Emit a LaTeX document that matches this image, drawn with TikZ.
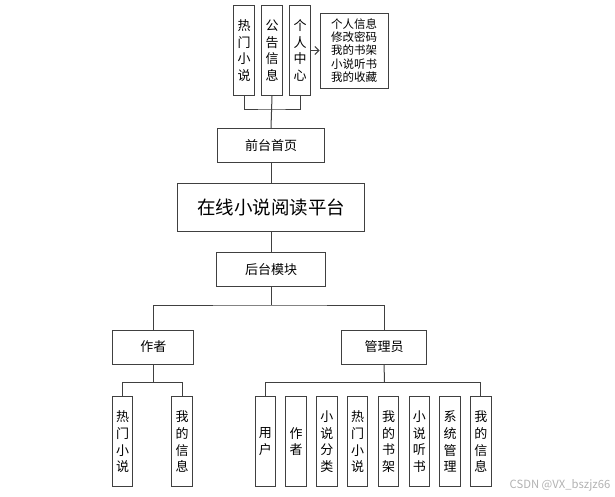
\documentclass[tikz,border=0pt]{standalone}
\usepackage{fontspec}
\setmainfont{Noto Sans CJK SC}
\usetikzlibrary{arrows.meta, positioning}

\begin{document}
\begin{tikzpicture}[x=1pt, y=-1pt,
    box/.style={draw=black!75, line width=1pt, fill=white, inner sep=0pt, align=center,
        font=\fontsize{13}{16.7}\selectfont},
    vbox/.style={box, minimum width=20.5pt, minimum height=90pt},
    hbox/.style={box, minimum height=34pt},
    link/.style={draw=black!75, line width=1pt}
]
    \useasboundingbox (0,0) rectangle (615,496);

    % 前台
    \node[vbox] (hot) at (244,50.5) {热\\门\\小\\说};
    \node[vbox, right=6.5pt of hot] (notice) {公\\告\\信\\息};
    \node[vbox, right=6.5pt of notice] (center) {个\\人\\中\\心};
    \node[box, minimum width=68pt, minimum height=75pt, font=\fontsize{11.5}{13.3}\selectfont]
        (info) at (354,50.5) {个人信息\\修改密码\\我的书架\\小说听书\\我的收藏};
    \node[hbox, minimum width=107pt] (front) at (271,145.3) {前台首页};
    \coordinate (fsplit) at (271,109);
    \draw[link] (hot.south) |- (fsplit) -| (center.south);
    \draw[link] (notice.south) -- (front.north);
    \draw[link, -{Straight Barb[length=4pt, width=8pt]}] (center.east) -- (info.west);

    % 平台
    \node[box, minimum width=186.7pt, minimum height=48.4pt, font=\fontsize{18.5}{22}\selectfont]
        (platform) at (271,207.5) {在线小说阅读平台};
    \node[hbox, minimum width=109.7pt] (back) at (271,269.7) {后台模块};
    \draw[link] (front) -- (platform);
    \draw[link] (platform) -- (back);

    % 后台
    \node[hbox, minimum width=81pt] (author) at (153.3,347) {作者};
    \node[hbox, minimum width=85pt] (admin) at (384.2,347) {管理员};
    \coordinate (bsplit) at (271,305);
    \draw[link] (back.south) -- (bsplit);
    \draw[link] (author.north) |- (bsplit) -| (admin.north);

    % 作者
    \node[vbox] (ahot) at (122.5,441.7) {热\\门\\小\\说};
    \node[vbox] (ainfo) at (182,441.7) {我\\的\\信\\息};
    \coordinate (asplit) at (153.3,382.7);
    \draw[link] (author.south) -- (asplit);
    \draw[link] (ahot.north) |- (asplit) -| (ainfo.north);

    % 管理员
    \node[vbox] (muser) at (265.3,441.7) {用\\户};
    \node[vbox, right=9.3pt of muser] (mauthor) {作\\者};
    \node[vbox, right=9.3pt of mauthor] (mtype) {小\\说\\分\\类};
    \node[vbox, right=9.3pt of mtype] (mhot) {热\\门\\小\\说};
    \node[vbox, right=9.3pt of mhot] (mshelf) {我\\的\\书\\架};
    \node[vbox, right=9.3pt of mshelf] (maudio) {小\\说\\听\\书};
    \node[vbox, right=9.3pt of maudio] (msys) {系\\统\\管\\理};
    \node[vbox, right=9.3pt of msys] (minfo) {我\\的\\信\\息};
    \coordinate (msplit) at (384.3,382.7);
    \draw[link] (admin.south) -- (msplit);
    \draw[link] (muser.north) |- (msplit) -| (minfo.north);

    \node[text=black!30, font=\fontsize{11.3}{13}\selectfont] (mark) at (560,485) {CSDN @VX\_bszjz66};
\end{tikzpicture}
\end{document}
